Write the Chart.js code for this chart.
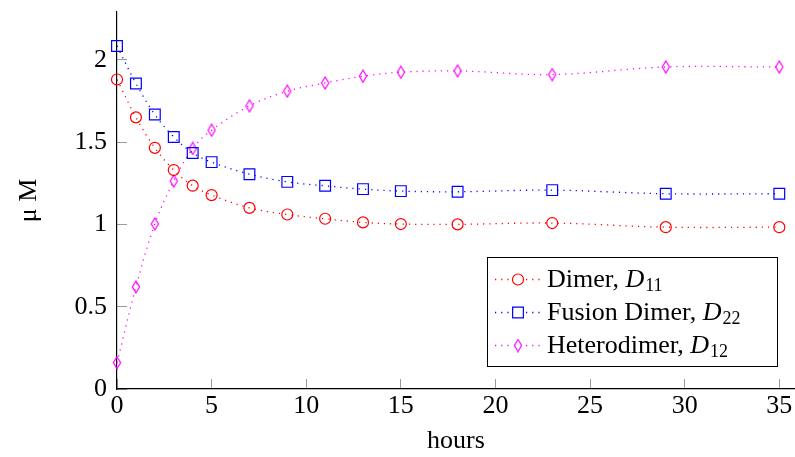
<!DOCTYPE html>
<html>
<head>
<meta charset="utf-8">
<script src="https://cdn.jsdelivr.net/npm/chart.js@4/dist/chart.umd.min.js"></script>
<style>
html,body{margin:0;padding:0;background:#fff;}
canvas{display:block;}
</style>
</head>
<body>
<canvas id="c" width="795" height="457"></canvas>
<script>
// ---- data ----
const hours = [0, 1, 2, 3, 4, 5, 7, 9, 11, 13, 15, 18, 23, 29, 35];
const dimerD11 = [1.88, 1.65, 1.465, 1.33, 1.235, 1.178, 1.10, 1.06, 1.034, 1.012, 1.002, 1.0, 1.008, 0.983, 0.983];
const fusionD22 = [2.084, 1.856, 1.667, 1.531, 1.434, 1.378, 1.305, 1.258, 1.234, 1.214, 1.202, 1.198, 1.208, 1.186, 1.186];
const heteroD12 = [0.16, 0.62, 1.003, 1.264, 1.461, 1.572, 1.72, 1.809, 1.859, 1.900, 1.924, 1.932, 1.910, 1.956, 1.956];
const xTicks = [0, 5, 10, 15, 20, 25, 30, 35];
const yTicks = [0, 0.5, 1, 1.5, 2];
const seriesNames = ['Dimer, ', 'Fusion Dimer, ', 'Heterodimer, '];
const seriesSymbols = ['D', 'D', 'D'];
const seriesSubs = ['11', '22', '12'];
const xTitle = 'hours';
const yTitle = 'μ M';

const FONT = "'Liberation Serif', 'Times New Roman', serif";
const RED = '#ff0000', BLUE = '#0000ff', MAG = '#ff00ff';

function diamondCanvas(color) {
  const c = document.createElement('canvas');
  c.width = 10; c.height = 14;
  const g = c.getContext('2d');
  g.strokeStyle = color; g.lineWidth = 1.2;
  g.beginPath();
  g.moveTo(5, 1); g.lineTo(8.6, 7); g.lineTo(5, 13); g.lineTo(1.4, 7); g.closePath();
  g.stroke();
  return c;
}
const diamond = diamondCanvas(MAG);

const pts = (ys) => hours.map((h, i) => ({x: h, y: ys[i]}));
const common = {
  borderWidth: 1.3,
  borderDash: [1.2, 5],
  tension: 0.35,
  pointBorderWidth: 1.2,
  pointBackgroundColor: 'rgba(0,0,0,0)',
  clip: false,
  fill: false
};

const datasets = [
  Object.assign({}, common, {label: 'Dimer, D11', data: pts(dimerD11), borderColor: RED, pointBorderColor: RED, pointStyle: 'circle', pointRadius: 5.5}),
  Object.assign({}, common, {label: 'Fusion Dimer, D22', data: pts(fusionD22), borderColor: BLUE, pointBorderColor: BLUE, pointStyle: 'rect', pointRadius: 7.6}),
  Object.assign({}, common, {label: 'Heterodimer, D12', data: pts(heteroD12), borderColor: MAG, pointBorderColor: MAG, pointStyle: diamond, pointRadius: 6})
];

const legendPlugin = {
  id: 'texLegend',
  afterDatasetsDraw(chart) {
    const ctx = chart.ctx, a = chart.chartArea;
    const right = a.right - 18, bottom = a.bottom - 23;
    const w = 290, h = 109;
    const left = right - w, top = bottom - h;
    ctx.save();
    ctx.fillStyle = '#fff';
    ctx.fillRect(left, top, w, h);
    ctx.strokeStyle = '#000'; ctx.lineWidth = 1;
    ctx.strokeRect(Math.round(left) + 0.5, Math.round(top) + 0.5, w, h);
    chart.data.datasets.forEach((ds, i) => {
      const cy = top + 22.5 + i * 33;
      ctx.save();
      ctx.strokeStyle = ds.borderColor; ctx.lineWidth = ds.borderWidth;
      ctx.setLineDash(ds.borderDash);
      ctx.beginPath(); ctx.moveTo(left + 8, cy); ctx.lineTo(left + 55, cy); ctx.stroke();
      ctx.restore();
      const mx = left + 31;
      ctx.save();
      ctx.fillStyle = '#fff';
      ctx.fillRect(mx - 6, cy - 7, 12, 14);
      ctx.restore();
      if (ds.pointStyle instanceof HTMLCanvasElement) {
        ctx.drawImage(ds.pointStyle, mx - ds.pointStyle.width / 2, cy - ds.pointStyle.height / 2);
      } else {
        ctx.save();
        ctx.strokeStyle = ds.pointBorderColor; ctx.lineWidth = ds.pointBorderWidth;
        ctx.beginPath();
        if (ds.pointStyle === 'circle') { ctx.arc(mx, cy, ds.pointRadius, 0, Math.PI * 2); }
        else { const s = ds.pointRadius * Math.SQRT1_2; ctx.rect(mx - s, cy - s, 2 * s, 2 * s); }
        ctx.stroke();
        ctx.restore();
      }
      let tx = left + 60;
      const by = cy + 7.5;
      ctx.fillStyle = '#000';
      ctx.textBaseline = 'alphabetic'; ctx.textAlign = 'left';
      ctx.font = '26px ' + FONT;
      ctx.fillText(seriesNames[i], tx, by);
      tx += ctx.measureText(seriesNames[i]).width;
      ctx.font = 'italic 26px ' + FONT;
      ctx.fillText(seriesSymbols[i], tx, by);
      tx += ctx.measureText(seriesSymbols[i]).width + 1;
      ctx.font = '18px ' + FONT;
      ctx.fillText(seriesSubs[i], tx, by + 4);
    });
    ctx.restore();
  }
};

const zeroPad = (s) => { s.paddingTop = 0; s.paddingBottom = 0; s.paddingLeft = 0; s.paddingRight = 0; };

new Chart(document.getElementById('c'), {
  type: 'line',
  data: {datasets},
  plugins: [legendPlugin],
  options: {
    responsive: false,
    animation: false,
    devicePixelRatio: 1,
    layout: {autoPadding: false, padding: {top: 12, right: 0, bottom: 0, left: 0}},
    plugins: {legend: {display: false}, tooltip: {enabled: false}},
    scales: {
      x: {
        type: 'linear', min: 0, max: 35.83,
        afterBuildTicks: (s) => { s.ticks = xTicks.map(v => ({value: v})); },
        afterFit: (s) => { s.height = 68; zeroPad(s); },
        border: {display: true, color: '#000', width: 1.2},
        grid: {display: true, drawOnChartArea: false, drawTicks: true, tickLength: -10, tickColor: '#9a9a9a', tickWidth: 1},
        ticks: {color: '#000', font: {family: FONT, size: 26}, padding: 12, maxRotation: 0, autoSkip: false,
                callback: (v) => String(v)},
        title: {display: true, text: xTitle, color: '#000', font: {family: FONT, size: 26}, padding: {top: 0, bottom: 0}}
      },
      y: {
        type: 'linear', min: 0, max: 2.29,
        afterBuildTicks: (s) => { s.ticks = yTicks.map(v => ({value: v})); },
        afterFit: (s) => { s.width = 117; zeroPad(s); },
        border: {display: true, color: '#000', width: 1.2},
        grid: {display: true, drawOnChartArea: false, drawTicks: true, tickLength: -10, tickColor: '#9a9a9a', tickWidth: 1},
        ticks: {color: '#000', font: {family: FONT, size: 26}, padding: 20, autoSkip: false,
                callback: (v) => String(v)},
        title: {display: true, text: yTitle, color: '#000', font: {family: FONT, size: 26}, padding: {top: 14, bottom: 0}}
      }
    }
  }
});
</script>
</body>
</html>
